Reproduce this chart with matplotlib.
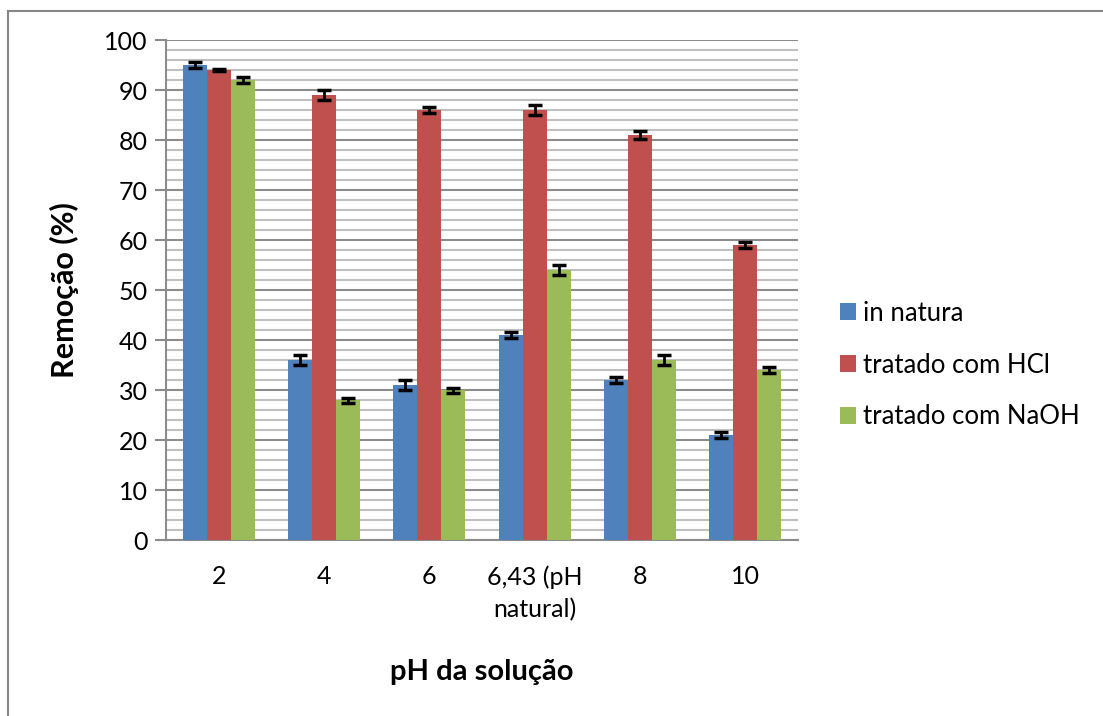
import matplotlib
matplotlib.use("Agg")
import matplotlib.pyplot as plt
import numpy as np
from matplotlib.patches import Rectangle
from matplotlib.lines import Line2D

categories = ["2", "4", "6", "6,43 (pH\nnatural)", "8", "10"]
series_names = ["in natura", "tratado com HCl", "tratado com NaOH"]
in_natura = [95, 36, 31, 41, 32, 21]
tratado_hcl = [94, 89, 86, 86, 81, 59]
tratado_naoh = [92, 28, 30, 54, 36, 34]
err_in_natura = [0.6, 1.0, 1.0, 0.6, 0.6, 0.6]
err_hcl = [0.15, 1.0, 0.6, 1.0, 0.8, 0.6]
err_naoh = [0.6, 0.5, 0.5, 1.0, 1.0, 0.6]

colors = ["#4F81BD", "#C0504D", "#9BBB59"]
plt.rcParams['font.family'] = ['Lato', 'DejaVu Sans']

W, H = 1103, 716
fig = plt.figure(figsize=(W / 100, H / 100), dpi=100)
ax = fig.add_axes([166 / W, 1 - 540 / H, (798 - 166) / W, (540 - 40) / H])

# outer chart border
fig.patches.append(Rectangle((8 / W, -0.05), 1.2, 1 - 11 / H + 0.05,
                             transform=fig.transFigure, fill=False,
                             edgecolor="#868686", linewidth=1.5))

x = np.arange(len(categories))
bw = 0.227
data = [in_natura, tratado_hcl, tratado_naoh]
errs = [err_in_natura, err_hcl, err_naoh]
for i, (vals, e) in enumerate(zip(data, errs)):
    ax.bar(x + (i - 1) * bw, vals, bw, color=colors[i], label=series_names[i],
           zorder=3, yerr=e, error_kw=dict(ecolor="black", elinewidth=2,
                                            capsize=5, capthick=2.5, zorder=4))

ax.set_xlim(-0.5, len(categories) - 0.5)
ax.set_ylim(0, 100)
ax.set_yticks(np.arange(0, 101, 10))
ax.set_yticks(np.arange(0, 101, 2), minor=True)
ax.grid(axis="y", which="major", color="#8C8C8C", linewidth=1.5, zorder=0)
ax.grid(axis="y", which="minor", color="#C0C0C0", linewidth=1.5, zorder=0)
ax.set_axisbelow(True)
ax.set_xticks(x)
ax.set_xticklabels(categories, fontsize=18, linespacing=1.5)
ax.tick_params(axis="x", length=0, pad=18)
ax.tick_params(axis="y", which="major", length=8, width=1.5, color="#8C8C8C",
               labelsize=18, pad=5)
ax.tick_params(axis="y", which="minor", length=0)
for s in ["top", "right"]:
    ax.spines[s].set_visible(False)
ax.spines["left"].set_color("#8C8C8C")
ax.spines["left"].set_linewidth(1.5)
ax.spines["bottom"].set_color("#8C8C8C")
ax.spines["bottom"].set_linewidth(1.5)
# extend bottom axis line leftwards
fig.lines.append(Line2D([158 / W, 166 / W], [1 - 540 / H, 1 - 540 / H],
                        transform=fig.transFigure, color="#8C8C8C", linewidth=1.5))

ax.set_ylabel("Remoção (%)", fontsize=22, fontweight="bold", labelpad=18)
fig.text(482 / W, 1 - 672 / H, "pH da solução", fontsize=21,
         fontweight="bold", ha="center", va="center")

leg = ax.legend(loc="center left", bbox_to_anchor=(817 / W, 1 - 365 / H),
                bbox_transform=fig.transFigure, frameon=False, fontsize=18.5,
                handlelength=0.6, handleheight=0.6, handletextpad=0.3,
                labelspacing=1.05)

fig.savefig("out.png", dpi=100)
